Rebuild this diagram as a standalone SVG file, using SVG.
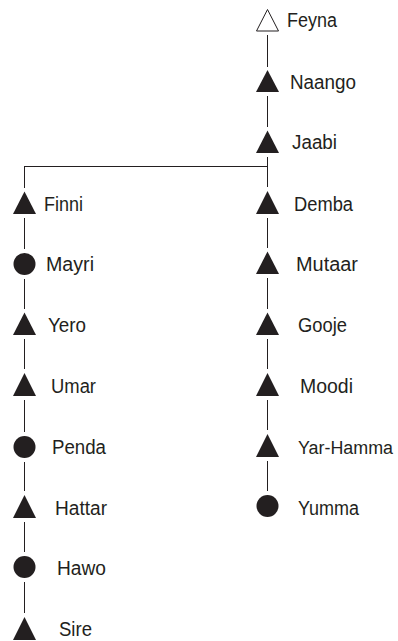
<svg xmlns="http://www.w3.org/2000/svg" width="398" height="641" viewBox="0 0 398 641">
<defs>
<style>
.t{font-family:"Liberation Sans",Arial,sans-serif;font-size:20px;fill:#231f20}
.m{fill:#231f20}
.f{fill:#fff;stroke:#231f20;stroke-width:1}
.c{stroke:#231f20;stroke-width:1;fill:none}
</style>
</defs>
<rect width="398" height="641" fill="#fff"/>
<g id="connectors" class="c">
<line x1="267.5" y1="35" x2="267.5" y2="67"/>
<line x1="267.5" y1="96" x2="267.5" y2="127"/>
<line x1="267.5" y1="157" x2="267.5" y2="187"/>
<line x1="24" y1="166.5" x2="267.5" y2="166.5"/>
<line x1="267.5" y1="218" x2="267.5" y2="248"/>
<line x1="267.5" y1="278" x2="267.5" y2="309"/>
<line x1="267.5" y1="339" x2="267.5" y2="369"/>
<line x1="267.5" y1="400" x2="267.5" y2="430"/>
<line x1="267.5" y1="461" x2="267.5" y2="491"/>
<line x1="24.5" y1="166" x2="24.5" y2="188"/>
<line x1="24.5" y1="218" x2="24.5" y2="249"/>
<line x1="24.5" y1="279" x2="24.5" y2="309"/>
<line x1="24.5" y1="339" x2="24.5" y2="369"/>
<line x1="24.5" y1="400" x2="24.5" y2="432"/>
<line x1="24.5" y1="462" x2="24.5" y2="491"/>
<line x1="24.5" y1="522" x2="24.5" y2="552"/>
<line x1="24.5" y1="582" x2="24.5" y2="613"/>
</g>
<g id="feyna"><polygon class="f" points="267.5,9.5 256.5,31 278.5,31"/><text class="t" x="287" y="27" textLength="50" lengthAdjust="spacingAndGlyphs">Feyna</text></g>
<g id="naango"><polygon class="m" points="267.5,70 256,92 279,92"/><text class="t" x="290" y="89" textLength="66" lengthAdjust="spacingAndGlyphs">Naango</text></g>
<g id="jaabi"><polygon class="m" points="267.5,130.5 256,153 279,153"/><text class="t" x="292" y="149" textLength="45" lengthAdjust="spacingAndGlyphs">Jaabi</text></g>
<g id="finni"><polygon class="m" points="24.5,191.5 13,214 36,214"/><text class="t" x="44" y="211" textLength="39" lengthAdjust="spacingAndGlyphs">Finni</text></g>
<g id="mayri"><circle class="m" cx="24.5" cy="264" r="11"/><text class="t" x="46" y="271" textLength="48" lengthAdjust="spacingAndGlyphs">Mayri</text></g>
<g id="yero"><polygon class="m" points="24.5,312.5 13,335 36,335"/><text class="t" x="48" y="332" textLength="38" lengthAdjust="spacingAndGlyphs">Yero</text></g>
<g id="umar"><polygon class="m" points="24.5,373 13,396 36,396"/><text class="t" x="51" y="393" textLength="45" lengthAdjust="spacingAndGlyphs">Umar</text></g>
<g id="penda"><circle class="m" cx="24.5" cy="447" r="11"/><text class="t" x="52" y="454" textLength="54" lengthAdjust="spacingAndGlyphs">Penda</text></g>
<g id="hattar"><polygon class="m" points="24.5,495 13,518 36,518"/><text class="t" x="55" y="515" textLength="52" lengthAdjust="spacingAndGlyphs">Hattar</text></g>
<g id="hawo"><circle class="m" cx="24.5" cy="567" r="11"/><text class="t" x="57" y="575" textLength="49" lengthAdjust="spacingAndGlyphs">Hawo</text></g>
<g id="sire"><polygon class="m" points="24.5,617 13,640 36,640"/><text class="t" x="59" y="636" textLength="33" lengthAdjust="spacingAndGlyphs">Sire</text></g>
<g id="demba"><polygon class="m" points="267.5,191 256,214 279,214"/><text class="t" x="294" y="211" textLength="59" lengthAdjust="spacingAndGlyphs">Demba</text></g>
<g id="mutaar"><polygon class="m" points="267.5,251.5 256,274 279,274"/><text class="t" x="296" y="271" textLength="62" lengthAdjust="spacingAndGlyphs">Mutaar</text></g>
<g id="gooje"><polygon class="m" points="267.5,312.5 256,335 279,335"/><text class="t" x="298" y="332" textLength="49" lengthAdjust="spacingAndGlyphs">Gooje</text></g>
<g id="moodi"><polygon class="m" points="267.5,373 256,396 279,396"/><text class="t" x="300" y="393" textLength="53" lengthAdjust="spacingAndGlyphs">Moodi</text></g>
<g id="yar-hamma"><polygon class="m" points="267.5,434 256,457 279,457"/><text class="t" x="298" y="454" style="font-size:18px" textLength="95" lengthAdjust="spacingAndGlyphs">Yar-Hamma</text></g>
<g id="yumma"><circle class="m" cx="267.5" cy="506" r="11"/><text class="t" x="298" y="515" textLength="61" lengthAdjust="spacingAndGlyphs">Yumma</text></g>
</svg>
